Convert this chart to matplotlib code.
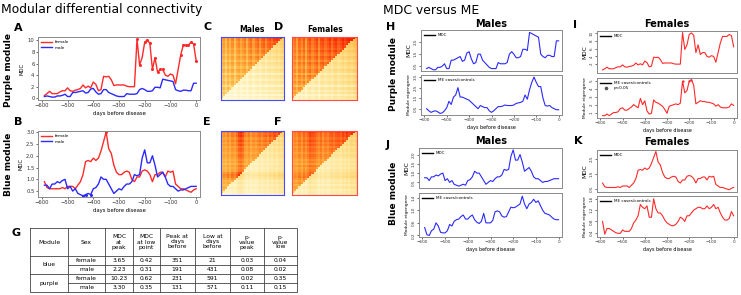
import numpy as np
import matplotlib
matplotlib.use("Agg")
import matplotlib.pyplot as plt
from matplotlib.colors import LinearSegmentedColormap
from matplotlib.lines import Line2D

W, H = 741, 295
DPI = 100

# ---------------- data ----------------
days = list(range(-590, 1, 10))

purple_female_mdc = [0.5, 0.8, 1.2, 0.8, 0.8, 0.8, 1.1, 1.3, 1.3, 1.8,
                     1.3, 1.2, 1.4, 1.5, 1.7, 2.3, 1.8, 2.1, 1.8, 2.8,
                     2.4, 1.3, 1.5, 3.8, 3.7, 3.8, 3.2, 2.2, 2.3, 2.3,
                     2.3, 2.3, 2.1, 2.0, 2.0, 2.0, 10.2, 5.8, 7.0, 9.7,
                     10.1, 9.5, 5.0, 7.0, 4.5, 5.0, 5.0, 4.0, 3.8, 4.2,
                     4.0, 2.5, 5.0, 7.5, 9.2, 9.2, 9.2, 9.7, 9.4, 6.5]
purple_male_mdc = [0.3, 0.4, 0.3, 0.2, 0.2, 0.4, 0.4, 0.5, 0.7, 0.3,
                   0.3, 1.0, 1.0, 1.1, 1.2, 1.3, 0.9, 1.0, 1.6, 1.7,
                   1.1, 0.7, 0.8, 1.5, 1.5, 1.0, 0.8, 0.6, 0.4, 0.3,
                   0.3, 0.3, 0.8, 0.7, 0.7, 0.7, 0.8, 1.5, 1.7, 1.5,
                   1.2, 1.2, 1.3, 1.9, 1.9, 1.8, 3.3, 3.2, 3.1, 3.0,
                   2.9, 1.5, 1.3, 1.2, 1.4, 1.4, 1.3, 1.3, 2.6, 2.6]
blue_female_mdc = [0.9, 0.65, 0.6, 0.6, 0.6, 0.6, 0.6, 0.65, 0.6, 0.7,
                   0.7, 0.7, 0.6, 0.75, 0.9, 1.2, 1.75, 1.8, 1.75, 1.9,
                   1.8, 1.9, 2.2, 2.6, 3.0, 2.3, 2.1, 1.6, 1.3, 1.2,
                   1.2, 1.3, 1.35, 1.3, 1.0, 0.9, 1.1, 1.1, 1.35, 1.4,
                   1.35, 1.2, 0.9, 1.2, 1.2, 1.3, 1.3, 1.1, 1.35, 1.3,
                   1.35, 0.8, 0.7, 0.6, 0.6, 0.55, 0.5, 0.45, 0.55, 0.6]
blue_male_mdc = [0.75, 0.75, 0.6, 0.8, 0.8, 0.9, 0.85, 0.95, 1.0, 0.6,
                 0.7, 0.5, 0.6, 0.4, 0.35, 0.3, 0.35, 0.4, 0.35, 0.6,
                 0.65, 0.8, 1.1, 1.0, 1.0, 0.8, 0.6, 0.4, 0.5, 0.6,
                 0.55, 0.7, 0.8, 0.8, 0.9, 1.2, 1.15, 1.2, 1.9, 2.25,
                 1.7, 1.7, 2.0, 1.6, 1.1, 1.2, 1.3, 1.1, 0.8, 0.7,
                 0.7, 0.6, 0.5, 0.55, 0.55, 0.6, 0.65, 0.7, 0.7, 0.7]
purple_male_me = [0.5, 0.3, 0.15, 0.25, 0.3, 0.2, 0.05, 0.1, 0.3, 0.6,
                  1.2, 0.9, 1.6, 1.8, 2.5, 1.6, 1.6, 1.5, 1.4, 1.3,
                  1.1, 0.9, 0.7, 0.5, 0.8, 0.7, 0.6, 0.6, 0.3, 0.15,
                  0.3, 0.5, 0.7, 0.7, 0.75, 0.85, 0.8, 0.8, 0.8, 0.85,
                  1.0, 1.05, 1.1, 1.2, 1.8, 1.4, 2.3, 3.0, 3.5, 3.0,
                  2.6, 2.6, 1.5, 0.8, 0.75, 0.8, 0.6, 0.5, 0.4, 0.4]
purple_female_me = [0.6, 0.6, 0.8, 0.6, 0.8, 1.0, 1.0, 1.1, 1.5, 1.6,
                    1.3, 1.3, 1.5, 1.7, 2.0, 1.8, 1.6, 2.8, 2.0, 2.5,
                    1.2, 0.8, 0.9, 2.6, 2.3, 2.2, 2.0, 1.8, 1.4, 0.9,
                    1.8, 1.9, 2.0, 2.1, 2.0, 2.2, 5.0, 3.5, 3.8, 5.0,
                    5.2, 4.5, 2.1, 2.3, 2.5, 2.4, 2.4, 2.3, 2.3, 2.2,
                    2.1, 1.8, 2.0, 1.7, 1.6, 1.6, 1.6, 1.7, 2.1, 1.9]
blue_male_me = [0.45, 0.22, 0.2, 0.35, 0.4, 0.6, 0.5, 0.3, 0.28, 0.28,
                0.35, 0.55, 0.5, 0.65, 0.7, 0.72, 0.8, 0.85, 0.72, 0.72,
                0.8, 0.85, 0.7, 0.62, 0.58, 0.65, 0.9, 0.6, 0.6, 0.6,
                0.68, 0.95, 0.98, 0.95, 0.82, 0.78, 0.8, 0.95, 1.1, 1.08,
                1.1, 1.15, 1.2, 1.45, 1.2, 1.05, 1.2, 1.25, 1.35, 1.25,
                1.3, 1.15, 1.0, 0.9, 0.88, 0.85, 0.78, 0.72, 0.7, 0.7]
blue_female_me = [0.8, 0.35, 0.55, 0.55, 0.5, 0.45, 0.4, 0.38, 0.38, 0.5,
                  0.45, 0.45, 0.45, 0.55, 0.75, 0.85, 1.0, 1.4, 1.3, 1.25,
                  1.35, 0.95, 0.95, 1.6, 1.25, 1.1, 1.1, 1.0, 0.85, 0.75,
                  0.7, 0.65, 0.65, 0.7, 0.8, 0.95, 0.9, 0.8, 1.0, 1.0,
                  1.1, 1.2, 1.25, 1.3, 1.3, 1.25, 1.25, 1.35, 1.25, 1.3,
                  1.4, 1.25, 1.3, 1.1, 0.95, 0.85, 0.85, 0.9, 1.15, 1.0]

# significant (p<0.05) days marked with dots
purple_female_sig = [-230, -220, -200, -190, -180, -170, -160, -150, -140, -130,
                     -60, -50, -40, -30, -20, -10, 0]
purple_female_me_sig = [-230, -200, -190]
blue_female_sig = [-350]
blue_male_sig = [-440, -430, -410]

# gene-connectivity profiles for heat maps (cases upper triangle, controls lower)
C_cases = [0.62, 0.7, 0.55, 0.72, 0.6, 0.75, 0.55, 0.72, 0.78, 0.66, 0.74, 0.8, 0.62, 0.78, 0.84,
           0.7, 0.8, 0.86, 0.72, 0.84, 0.88, 0.76, 0.86, 0.9, 0.84, 0.92, 0.94, 0.9, 0.97, 1.0]
C_controls = [0.3, 0.38, 0.25, 0.42, 0.32, 0.44, 0.26, 0.42, 0.48, 0.36, 0.44, 0.5, 0.32, 0.48, 0.54,
              0.42, 0.5, 0.55, 0.44, 0.54, 0.58, 0.48, 0.56, 0.6, 0.55, 0.6, 0.64, 0.6, 0.66, 0.7]
D_cases = [0.72, 0.8, 0.66, 0.82, 0.74, 0.85, 0.66, 0.82, 0.88, 0.78, 0.84, 0.9, 0.74, 0.88, 0.9,
           0.82, 0.88, 0.93, 0.82, 0.9, 0.94, 0.86, 0.9, 0.96, 0.9, 0.94, 0.97, 0.95, 1.0, 1.0]
D_controls = [0.4, 0.46, 0.34, 0.5, 0.4, 0.52, 0.34, 0.5, 0.55, 0.45, 0.5, 0.56, 0.4, 0.55, 0.6,
              0.5, 0.56, 0.6, 0.5, 0.6, 0.64, 0.55, 0.6, 0.66, 0.6, 0.65, 0.7, 0.66, 0.72, 0.76]
E_cases = [0.66, 0.74, 0.7, 0.78, 0.7, 0.8, 0.74, 0.84, 0.95, 0.98, 0.92, 0.78, 0.74, 0.8, 0.7,
           0.78, 0.74, 0.8, 0.84, 0.78, 0.84, 0.86, 0.8, 0.9, 0.84, 0.92, 0.86, 0.95, 0.92, 1.0]
E_controls = [0.36, 0.42, 0.4, 0.46, 0.4, 0.48, 0.42, 0.52, 0.58, 0.62, 0.56, 0.46, 0.42, 0.48, 0.4,
              0.46, 0.42, 0.48, 0.52, 0.46, 0.52, 0.54, 0.48, 0.58, 0.52, 0.6, 0.54, 0.64, 0.6, 0.66]
F_cases = [0.7, 0.78, 0.74, 0.82, 0.74, 0.85, 0.78, 0.85, 0.93, 0.9, 0.88, 0.82, 0.78, 0.85, 0.74,
           0.82, 0.78, 0.85, 0.88, 0.82, 0.88, 0.9, 0.85, 0.93, 0.88, 0.95, 0.9, 0.95, 0.95, 1.0]
F_controls = [0.4, 0.46, 0.4, 0.5, 0.4, 0.5, 0.44, 0.5, 0.6, 0.56, 0.56, 0.5, 0.44, 0.5, 0.44,
              0.5, 0.44, 0.5, 0.56, 0.5, 0.56, 0.56, 0.5, 0.6, 0.56, 0.62, 0.56, 0.66, 0.62, 0.68]

# table G
tbl_header = ["Module", "Sex", "MDC\nat\npeak", "MDC\nat low\npoint", "Peak at\ndays\nbefore",
              "Low at\ndays\nbefore", "p-\nvalue\npeak", "p-\nvalue\nlow"]
tbl_module = ["blue", "purple"]
tbl_sex = ["female", "male", "female", "male"]
tbl_mdc_peak = ["3.65", "2.23", "10.23", "3.30"]
tbl_mdc_low = ["0.42", "0.31", "0.62", "0.35"]
tbl_peak_days = ["351", "191", "231", "131"]
tbl_low_days = ["21", "431", "591", "571"]
tbl_p_peak = ["0.03", "0.08", "0.02", "0.11"]
tbl_p_low = ["0.04", "0.02", "0.35", "0.15"]

# ---------------- figure ----------------
plt.rcParams['font.family'] = ['DejaVu Sans']
fig = plt.figure(figsize=(W / DPI, H / DPI), dpi=DPI)

RED = '#ff2a2a'
BLUE = '#2a2aff'
GREY = '#8a8a8a'


def rect(x0, y0, x1, y1):
    return [x0 / W, 1 - y1 / H, (x1 - x0) / W, (y1 - y0) / H]


def style(ax, fs=3.8, yrot=0):
    for s in ax.spines.values():
        s.set_color(GREY)
        s.set_linewidth(0.7)
    ax.tick_params(length=1.5, width=0.5, pad=1, labelsize=fs, colors='#333333')
    ax.tick_params(axis='y', labelrotation=yrot)
    ax.set_xlim(-615, 15)
    ax.set_xticks([-600, -500, -400, -300, -200, -100, 0])


def dots(ax, xs, ys, sel, color, ms=2.2):
    sx = [x for x in xs if x in sel]
    sy = [ys[xs.index(x)] for x in sx]
    ax.plot(sx, sy, 'o', color=color, ms=ms, mec='none')


# Panel A
axA = fig.add_axes(rect(38, 37, 200, 100))
axA.plot(days, purple_female_mdc, color=RED, lw=1.0, label='female')
axA.plot(days, purple_male_mdc, color=BLUE, lw=1.0, label='male')
dots(axA, days, purple_female_mdc, purple_female_sig, RED)
style(axA)
axA.set_ylim(-0.3, 10.6)
axA.set_yticks([0, 2, 4, 6, 8, 10])
axA.set_ylabel('MDC', fontsize=3.8, labelpad=2)
axA.set_xlabel('days before disease', fontsize=3.8, labelpad=2)
axA.legend(loc='upper left', fontsize=3.0, frameon=False, handlelength=2.5,
           borderpad=0.3, labelspacing=0.3)

# Panel B
axB = fig.add_axes(rect(38, 131, 200, 197))
axB.plot(days, blue_female_mdc, color=RED, lw=1.0, label='female')
axB.plot(days, blue_male_mdc, color=BLUE, lw=1.0, label='male')
dots(axB, days, blue_female_mdc, blue_female_sig, RED)
dots(axB, days, blue_male_mdc, blue_male_sig, BLUE)
style(axB)
axB.set_ylim(0.25, 3.05)
axB.set_yticks([0.5, 1.0, 1.5, 2.0, 2.5, 3.0])
axB.set_ylabel('MDC', fontsize=3.8, labelpad=2)
axB.set_xlabel('days before disease', fontsize=3.8, labelpad=2)
axB.legend(loc='upper left', fontsize=3.0, frameon=False, handlelength=2.5,
           borderpad=0.3, labelspacing=0.3)

# Heat maps
heat = LinearSegmentedColormap.from_list(
    'heat', ['#fffff4', '#fff6c8', '#ffe08a', '#ffc050', '#ff9a30', '#ff5a18', '#f01000'])


def heatmap(box, cases, controls, edge):
    ax = fig.add_axes(rect(*box))
    a = np.array(cases)
    b = np.array(controls)
    up = np.outer(a, a)
    lo = np.outer(b, b)
    n = len(a)
    i, j = np.indices((n, n))
    m = np.where(i > j, up, lo)
    ax.imshow(m, origin='lower', cmap=heat, vmin=0, vmax=1, aspect='auto', interpolation='nearest')
    ax.set_xticks([])
    ax.set_yticks([])
    for s in ax.spines.values():
        s.set_color(edge)
        s.set_linestyle((0, (1, 1)))
        s.set_linewidth(0.8)
    return ax


heatmap((221, 37, 284, 100), C_cases, C_controls, '#4a4aff')
heatmap((292, 37, 357, 100), D_cases, D_controls, '#ff4a4a')
heatmap((221, 131, 284, 195), E_cases, E_controls, '#4a4aff')
heatmap((292, 131, 357, 195), F_cases, F_controls, '#ff4a4a')


# Right panels
def rpanel(box, y, color, yticks, ylim, ylabel, leg, sig=None, bottom=False):
    ax = fig.add_axes(rect(*box))
    ax.plot(days, y, color=color, lw=0.8)
    if sig:
        dots(ax, days, y, sig, color, ms=1.6)
    style(ax, fs=3.0, yrot=90)
    ax.set_ylim(*ylim)
    ax.set_yticks(yticks)
    for lab in ax.get_yticklabels():
        lab.set_va('center')
    ax.set_ylabel(ylabel, fontsize=4.2 if ylabel == 'MDC' else 3.2, labelpad=1.5)
    handles = [Line2D([], [], color='black', lw=1.0, label=leg)]
    if sig:
        handles.append(Line2D([], [], color='#555555', marker='o', ls='none', ms=1.6, label='p<0.05'))
    ax.legend(handles=handles, loc='upper left', fontsize=3.0, frameon=False,
              handlelength=2.5, borderpad=0.3, labelspacing=0.2)
    if bottom:
        ax.set_xlabel('days before disease', fontsize=3.5, labelpad=2)
    else:
        ax.tick_params(axis='x', labelbottom=False, length=0)
    return ax


rpanel((421, 30, 562, 71), purple_male_mdc, BLUE, [0.5, 1.5, 2.5], (0.1, 3.5), 'MDC', 'MDC')
rpanel((421, 75, 562, 115), purple_male_me, BLUE, [0.5, 1.5, 2.5, 3.5], (-0.1, 3.7),
       'Module eigengene', 'ME cases/controls', bottom=True)
rpanel((597, 31, 737, 73), purple_female_mdc, RED, [2, 4, 6, 8, 10], (-0.3, 10.6), 'MDC', 'MDC')
rpanel((597, 78, 737, 118), purple_female_me, RED, [1, 2, 3, 4, 5], (0.3, 5.4),
       'Module eigengene', 'ME cases/controls', sig=purple_female_me_sig, bottom=True)
rpanel((419, 148, 562, 188), blue_male_mdc, BLUE, [0.5, 1.0, 1.5, 2.0], (0.2, 2.35), 'MDC', 'MDC')
rpanel((419, 193, 562, 237), blue_male_me, BLUE, [0.2, 0.6, 1.0, 1.4], (0.15, 1.55),
       'Module eigengene', 'ME cases/controls', bottom=True)
rpanel((597, 150, 737, 192), blue_female_mdc, RED, [0.5, 1.5, 2.5], (0.3, 3.1), 'MDC', 'MDC')
rpanel((597, 196, 737, 237), blue_female_me, RED, [0.4, 0.8, 1.2, 1.6], (0.25, 1.7),
       'Module eigengene', 'ME cases/controls', bottom=True)

# ---------------- overlay text + table ----------------
ov = fig.add_axes([0, 0, 1, 1], zorder=-1)
ov.set_xlim(0, W)
ov.set_ylim(H, 0)
ov.axis('off')

ov.text(1, 10, 'Modular differential connectivity', fontsize=8.9, va='center', ha='left')
ov.text(383, 10, 'MDC versus ME', fontsize=8.9, va='center', ha='left')

for lab, x, y in [('A', 14, 28), ('B', 14, 122), ('C', 203, 27), ('D', 274, 27),
                  ('E', 203, 122), ('F', 274, 122), ('G', 12, 233),
                  ('H', 386, 27), ('I', 573, 25), ('J', 386, 145), ('K', 574, 141)]:
    ov.text(x, y, lab, fontsize=8, fontweight='bold', va='center', ha='left')

ov.text(9, 70, 'Purple module', rotation=90, fontsize=6.5, fontweight='bold', va='center', ha='center')
ov.text(9, 164, 'Blue module', rotation=90, fontsize=6.5, fontweight='bold', va='center', ha='center')
ov.text(394, 74, 'Purple module', rotation=90, fontsize=6.5, fontweight='bold', va='center', ha='center')
ov.text(394, 193, 'Blue module', rotation=90, fontsize=6.5, fontweight='bold', va='center', ha='center')

ov.text(252, 30, 'Males', fontsize=5.5, fontweight='bold', va='center', ha='center')
ov.text(325, 30, 'Females', fontsize=5.5, fontweight='bold', va='center', ha='center')
ov.text(491, 24, 'Males', fontsize=7, fontweight='bold', va='center', ha='center')
ov.text(667, 24, 'Females', fontsize=7, fontweight='bold', va='center', ha='center')
ov.text(491, 141, 'Males', fontsize=7, fontweight='bold', va='center', ha='center')
ov.text(667, 142, 'Females', fontsize=7, fontweight='bold', va='center', ha='center')

# table
cx = [30, 68, 105, 133, 160, 195, 230, 264, 297]
ry = [228, 256, 265, 274, 283, 292]
lw = 0.6
lc = '#444444'
ov.plot([cx[0], cx[-1], cx[-1], cx[0], cx[0]], [ry[0], ry[0], ry[-1], ry[-1], ry[0]], color=lc, lw=lw)
for x in cx[1:-1]:
    ov.plot([x, x], [ry[0], ry[-1]], color=lc, lw=lw)
ov.plot([cx[0], cx[-1]], [ry[1], ry[1]], color=lc, lw=lw)
ov.plot([cx[0], cx[-1]], [ry[3], ry[3]], color=lc, lw=lw)
ov.plot([cx[1], cx[-1]], [ry[2], ry[2]], color=lc, lw=lw)
ov.plot([cx[1], cx[-1]], [ry[4], ry[4]], color=lc, lw=lw)

fs_t = 4.3
for k, h in enumerate(tbl_header):
    ov.text((cx[k] + cx[k + 1]) / 2, (ry[0] + ry[1]) / 2, h, fontsize=fs_t, ha='center', va='center',
            linespacing=1.0)
for m, mod in enumerate(tbl_module):
    ov.text((cx[0] + cx[1]) / 2, (ry[1 + 2 * m] + ry[3 + 2 * m]) / 2, mod, fontsize=fs_t,
            ha='center', va='center')
cols = [tbl_sex, tbl_mdc_peak, tbl_mdc_low, tbl_peak_days, tbl_low_days, tbl_p_peak, tbl_p_low]
for c, col in enumerate(cols):
    for r, val in enumerate(col):
        ov.text((cx[c + 1] + cx[c + 2]) / 2, (ry[r + 1] + ry[r + 2]) / 2 + 0.3, val, fontsize=fs_t,
                ha='center', va='center')

fig.savefig('out.png', dpi=DPI)
